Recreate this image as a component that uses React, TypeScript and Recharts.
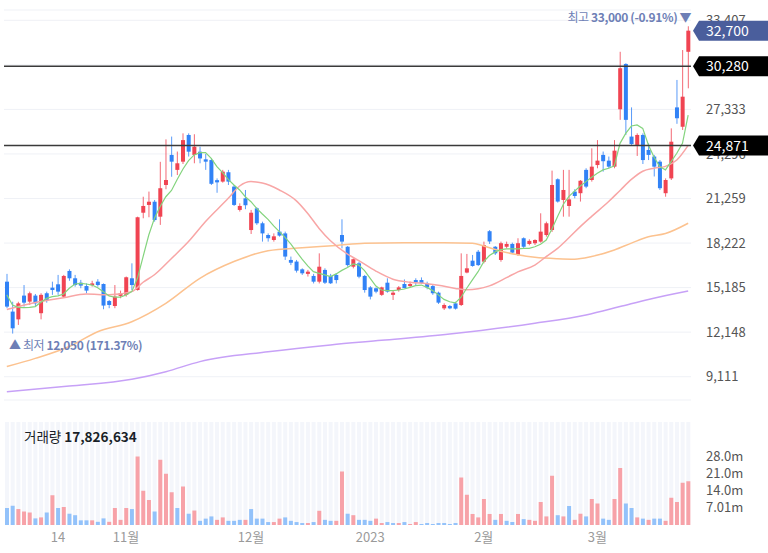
import React from 'react';
import {
  ComposedChart, Bar, Line, XAxis, YAxis, CartesianGrid,
  ReferenceLine, ReferenceDot, Cell,
} from 'recharts';

// trading days 2022-09-29 ~ 2023-03-24
const dates = [
  '2022-09-29', '2022-09-30',
  '2022-10-04', '2022-10-05', '2022-10-06', '2022-10-07', '2022-10-11', '2022-10-12', '2022-10-13', '2022-10-14',
  '2022-10-17', '2022-10-18', '2022-10-19', '2022-10-20', '2022-10-21', '2022-10-24', '2022-10-25', '2022-10-26',
  '2022-10-27', '2022-10-28', '2022-10-31',
  '2022-11-01', '2022-11-02', '2022-11-03', '2022-11-04', '2022-11-07', '2022-11-08', '2022-11-09', '2022-11-10',
  '2022-11-11', '2022-11-14', '2022-11-15', '2022-11-16', '2022-11-17', '2022-11-18', '2022-11-21', '2022-11-22',
  '2022-11-23', '2022-11-24', '2022-11-25', '2022-11-28', '2022-11-29', '2022-11-30',
  '2022-12-01', '2022-12-02', '2022-12-05', '2022-12-06', '2022-12-07', '2022-12-08', '2022-12-09', '2022-12-12',
  '2022-12-13', '2022-12-14', '2022-12-15', '2022-12-16', '2022-12-19', '2022-12-20', '2022-12-21', '2022-12-22',
  '2022-12-23', '2022-12-26', '2022-12-27', '2022-12-28', '2022-12-29',
  '2023-01-02', '2023-01-03', '2023-01-04', '2023-01-05', '2023-01-06', '2023-01-09', '2023-01-10', '2023-01-11',
  '2023-01-12', '2023-01-13', '2023-01-16', '2023-01-17', '2023-01-18', '2023-01-19', '2023-01-20', '2023-01-25',
  '2023-01-26', '2023-01-27', '2023-01-30', '2023-01-31',
  '2023-02-01', '2023-02-02', '2023-02-03', '2023-02-06', '2023-02-07', '2023-02-08', '2023-02-09', '2023-02-10',
  '2023-02-13', '2023-02-14', '2023-02-15', '2023-02-16', '2023-02-17', '2023-02-20', '2023-02-21', '2023-02-22',
  '2023-02-23', '2023-02-24', '2023-02-27', '2023-02-28',
  '2023-03-02', '2023-03-03', '2023-03-06', '2023-03-07', '2023-03-08', '2023-03-09', '2023-03-10', '2023-03-13',
  '2023-03-14', '2023-03-15', '2023-03-16', '2023-03-17', '2023-03-20', '2023-03-21', '2023-03-22', '2023-03-23',
  '2023-03-24',
];

const opens = [
  15590, 13550, 13020, 14640, 14230, 14640, 13440, 14800, 15180, 15410,
  14570, 16320, 15820, 15520, 15290, 15360, 15590, 15430, 14270, 13930,
  14620, 14690, 15820, 15020, 20290, 20820, 21040, 20020, 22180, 24230,
  23210, 23770, 25590, 24230, 24450, 23930, 23880, 22510, 22410, 23050,
  22070, 20480, 21270, 19110, 20590, 19570, 18770, 18430, 19000, 18880,
  17070, 16960, 16430, 16120, 15980, 15590, 16390, 15980, 16050, 18770,
  17970, 16610, 16840, 15980, 15200, 15140, 14690, 15520, 14690, 15020,
  15430, 15290, 15700, 15700, 15470, 15290, 14840, 13770, 13930, 14110,
  14000, 16210, 17020, 17630, 16950, 19030, 17970, 17070, 17970, 18160,
  17410, 18550, 18160, 18210, 18320, 18770, 19110, 22570, 21160, 20750,
  21730, 21620, 23210, 22520, 23540, 24230, 23840, 23430, 27340, 30430,
  25480, 24910, 25590, 24570, 24120, 23770, 21620, 22630, 27470, 26150,
  31260,
];

const highs = [
  16120, 14220, 14220, 15360, 14910, 14750, 14800, 14910, 15590, 16050,
  16050, 16430, 16050, 15710, 15470, 15650, 15760, 15470, 14340, 15360,
  14980, 15940, 16840, 20020, 21380, 21730, 21160, 23760, 25290, 25480,
  24460, 25700, 25700, 25640, 24790, 24300, 23990, 22630, 23210, 23210,
  22180, 20930, 21840, 20480, 20660, 19680, 18880, 18880, 19840, 19000,
  17300, 17070, 16500, 16390, 16120, 17520, 16500, 16120, 16160, 19840,
  18020, 17180, 16950, 16050, 15290, 15200, 15250, 15820, 15020, 15290,
  15740, 15590, 15820, 15880, 15590, 15360, 14910, 14110, 14000, 14220,
  17520, 17480, 17410, 17750, 18320, 19110, 18020, 18320, 18320, 18250,
  18550, 18610, 18480, 18480, 20250, 19680, 23160, 22630, 23210, 23210,
  21890, 22520, 23320, 24680, 25240, 24460, 24120, 25240, 31260, 30480,
  27470, 25700, 25700, 25020, 24230, 23880, 22630, 26040, 29340, 31380,
  33000,
];

const lows = [
  13780, 12050, 12640, 13890, 14000, 13930, 13020, 14160, 14690, 14690,
  14530, 15650, 15250, 15140, 14800, 15250, 15250, 13710, 13780, 13780,
  14460, 14570, 15020, 14980, 19910, 19980, 19680, 19460, 21890, 22740,
  22860, 23610, 24120, 23660, 23660, 23210, 22180, 21650, 22340, 22180,
  20750, 20370, 20530, 18840, 19460, 18320, 18320, 18320, 18660, 17070,
  16720, 16210, 16050, 15940, 15470, 15470, 15430, 15430, 15470, 17860,
  16610, 16500, 15820, 14840, 14380, 14800, 14620, 14840, 14340, 14910,
  15140, 15200, 15360, 15430, 15070, 14690, 14070, 13660, 13710, 13690,
  13930, 16160, 16610, 16660, 16840, 18160, 17410, 16950, 17860, 17480,
  17340, 17860, 18070, 18090, 18250, 18660, 18980, 20980, 20020, 20020,
  21270, 21050, 21960, 22410, 23320, 23090, 23320, 23320, 26620, 25590,
  24910, 24160, 23610, 23880, 22760, 21840, 21380, 22520, 26350, 25930,
  28770,
];

const closes = [
  13890, 12410, 14110, 14160, 14800, 14110, 14690, 14340, 15020, 14910,
  15980, 15820, 15360, 15320, 14980, 15470, 15360, 13960, 14000, 14570,
  14800, 15890, 15360, 19980, 20750, 21040, 19790, 21960, 22520, 23770,
  23660, 25240, 24450, 24790, 23990, 23770, 22260, 22360, 23090, 22410,
  20820, 20750, 20800, 20290, 19570, 18880, 18550, 18680, 18730, 17300,
  16880, 16340, 16160, 16270, 15590, 16610, 15520, 15480, 15700, 18320,
  16720, 17120, 15930, 15020, 14570, 14910, 15200, 14910, 14840, 15200,
  15150, 15430, 15520, 15490, 15200, 14800, 14160, 14000, 13770, 13750,
  15980, 16500, 16660, 16720, 18080, 18330, 17520, 18210, 18160, 17570,
  18210, 17970, 18370, 18430, 19000, 19570, 22180, 21050, 21840, 21200,
  21430, 22470, 22070, 23430, 23840, 23800, 23430, 24520, 30140, 26620,
  24970, 25590, 23880, 24230, 23430, 21960, 22520, 25130, 26730, 28200,
  32700,
];

// volume, millions of shares
const volumesM = [
  6.9, 7.9, 6.5, 5.5, 5.1, 2.7, 3.1, 5.1, 12.1, 6.9,
  7.3, 4.6, 4.0, 1.9, 1.9, 1.9, 1.3, 2.7, 1.3, 6.9,
  2.1, 6.9, 6.5, 27.9, 14.0, 10.2, 5.5, 26.6, 20.9, 13.4,
  6.9, 15.7, 4.6, 5.9, 1.7, 2.6, 3.5, 2.1, 3.1, 1.7,
  1.7, 2.1, 2.1, 6.5, 2.6, 2.6, 1.2, 1.2, 2.6, 3.1,
  1.7, 1.2, 0.8, 0.8, 1.2, 5.8, 2.1, 1.7, 1.7, 21.8,
  4.6, 4.0, 2.1, 2.1, 1.7, 2.6, 0.8, 1.2, 0.8, 0.8,
  1.2, 0.4, 1.2, 0.4, 0.8, 0.4, 0.8, 0.8, 0.4, 0.8,
  19.4, 12.3, 4.5, 3.1, 10.6, 4.5, 2.1, 4.5, 1.7, 1.2,
  4.5, 2.4, 2.1, 1.7, 9.4, 3.5, 20.1, 4.0, 3.5, 7.7,
  2.1, 4.6, 3.5, 10.6, 8.8, 2.6, 2.1, 10.6, 23.2, 8.8,
  6.9, 3.1, 2.6, 2.1, 2.6, 2.6, 1.7, 11.1, 9.4, 17.2,
  17.826634,
];

// moving averages
const ma5 = [
  14690, 14000, 13840, 13820, 13840, 13890, 14180, 14450, 14570, 14620,
  14750, 15140, 15430, 15470, 15430, 15360, 15180, 14910, 14620, 14530,
  14530, 14690, 14910, 15820, 17300, 18770, 19910, 20710, 21380, 21810,
  22560, 23250, 23840, 24230, 24390, 24390, 23990, 23430, 23020, 22560,
  22180, 21840, 21380, 21040, 20590, 20200, 19840, 19390, 19000, 18610,
  18160, 17640, 17120, 16660, 16270, 16160, 16050, 15940, 16120, 16360,
  16560, 16800, 16720, 16340, 15820, 15290, 15020, 14980, 14980, 15020,
  15090, 15200, 15320, 15360, 15200, 14980, 14690, 14380, 14220, 14140,
  14530, 15140, 15710, 16270, 16950, 17370, 17620, 17770, 17830, 17820,
  17830, 17860, 17860, 17970, 18140, 18430, 19180, 20040, 20850, 21400,
  21760, 22110, 22410, 22710, 22980, 23210, 23320, 23480, 25020, 25700,
  26200, 26270, 26040, 24910, 24070, 23430, 23210, 23770, 24340, 25020,
  26950,
];

const ma20Points: [number, number][] = [
  [0, 13690], [5, 14170], [10, 14500], [14, 14750], [18, 14690], [22, 14910], [24, 15550],
  [26, 16060], [29, 17170], [32, 18320], [35, 19690], [39, 21270], [41, 22110], [43, 22410],
  [45, 22310], [48, 21840], [51, 21100], [53, 20240], [55, 19220], [57, 18380], [60, 17470],
  [62, 17020], [65, 16310], [68, 15760], [71, 15550], [74, 15450], [76, 15350], [79, 15130],
  [81, 15040], [83, 15100], [85, 15300], [88, 15860], [90, 16260], [93, 16720], [95, 17300],
  [97, 17860], [99, 18580], [101, 19340], [103, 20040], [106, 21050], [108, 21810], [110, 22560],
  [112, 23120], [114, 23320], [116, 23450], [118, 23880], [120, 24880],
];

const ma60Points: [number, number][] = [
  [0, 9800], [5, 10360], [11, 11170], [16, 12180], [22, 12860], [28, 14110], [34, 15820],
  [40, 16960], [46, 17700], [52, 17900], [58, 18060], [63, 18210], [70, 18250], [77, 18250],
  [82, 18210], [84, 18020], [87, 17670], [90, 17420], [93, 17250], [97, 17150], [100, 17120],
  [103, 17300], [107, 17750], [110, 18220], [113, 18650], [116, 18870], [120, 19570],
];

const ma120Points: [number, number][] = [
  [0, 8090], [11, 8470], [22, 8930], [28, 9450], [34, 10140], [46, 10810], [57, 11280],
  [66, 11590], [78, 12020], [93, 12750], [102, 13320], [108, 13890], [113, 14380], [120, 14950],
];

const priceTicks = [9111, 12148, 15185, 18222, 21259, 24296, 27333, 30370, 33407];
const volumeTicks = [7.01e6, 14.0e6, 21.0e6, 28.0e6];
const xTickDates = ['2022-10-14', '2022-11-01', '2022-12-01', '2023-01-02', '2023-02-01', '2023-03-02'];
const xTickLabels = ['14', '11월', '12월', '2023', '2월', '3월'];

const levels = [30280, 24871];
const lastPrice = 32700;
const highPrice = 33000;
const highChange = '-0.91%';
const lowPrice = 12050;
const lowChange = '171.37%';

const FONT = '"Noto Sans CJK KR", "Noto Sans", sans-serif';
const UP = '#f04452';
const DOWN = '#3182f6';
const VOL_UP = '#f7a2a8';
const VOL_DOWN = '#93c2fa';
const NOTE = '#6e7fb6';
const PRICE_DOMAIN: [number, number] = [7523, 34109];
const MARGIN = { top: 10, right: 0, bottom: 10, left: 4 };

const fmt = (v: number) => v.toLocaleString('en-US');

const sparse = (pts: [number, number][]) => {
  const out: (number | null)[] = dates.map(() => null);
  pts.forEach(([i, v]) => { out[i] = v; });
  return out;
};
const ma20 = sparse(ma20Points);
const ma60 = sparse(ma60Points);
const ma120 = sparse(ma120Points);

const rows = dates.map((date, i) => ({
  date,
  open: opens[i],
  high: highs[i],
  low: lows[i],
  close: closes[i],
  vol: Math.round(volumesM[i] * 1e6),
  up: i === 0 ? closes[i] >= opens[i] : closes[i] >= closes[i - 1],
  ma5: ma5[i],
  ma20: ma20[i],
  ma60: ma60[i],
  ma120: ma120[i],
}));

const highIdx = highs.indexOf(highPrice);
const lowIdx = lows.indexOf(lowPrice);

function Candle(props: any) {
  const { x, y, width, height, payload } = props;
  const { open, close, high, low } = payload;
  const top = Math.min(y, y + height);
  const h = Math.abs(height);
  const py = (v: number) => (high === low ? top : top + ((high - v) / (high - low)) * h);
  const color = close >= open ? UP : DOWN;
  const cx = x + width / 2;
  const bTop = py(Math.max(open, close));
  const bBot = py(Math.min(open, close));
  return (
    <g>
      <line x1={cx} x2={cx} y1={top} y2={top + h} stroke={color} strokeWidth={1} strokeOpacity={0.8} />
      <rect x={x} y={bTop} width={width} height={Math.max(1, bBot - bTop)} fill={color} />
    </g>
  );
}

function PriceTag(props: any) {
  const { viewBox, text, fill } = props;
  if (!viewBox) return null;
  const y = viewBox.y;
  const x0 = viewBox.x + viewBox.width + 2;
  const hh = 10;
  return (
    <g>
      <polygon
        points={`${x0},${y} ${x0 + 6},${y - hh} 768,${y - hh} 768,${y + hh} ${x0 + 6},${y + hh}`}
        fill={fill}
      />
      <text x={x0 + 13} y={y} dy="0.36em" fill="#fff" fontSize={14}>{text}</text>
    </g>
  );
}

function HighLabel(props: any) {
  const { viewBox } = props;
  if (!viewBox) return null;
  return (
    <text x={viewBox.x + 3} y={viewBox.y - 4} textAnchor="end" fill={NOTE} fontSize={12} letterSpacing={-0.4}>
      <tspan>최고 </tspan>
      <tspan fontWeight="bold">{`${fmt(highPrice)} (${highChange})`}</tspan>
      <tspan> ▼</tspan>
    </text>
  );
}

function LowLabel(props: any) {
  const { viewBox } = props;
  if (!viewBox) return null;
  return (
    <text x={viewBox.x - 3.5} y={viewBox.y + 16} fill={NOTE} fontSize={12} letterSpacing={-0.4}>
      <tspan>▲ 최저 </tspan>
      <tspan fontWeight="bold">{`${fmt(lowPrice)} (${lowChange})`}</tspan>
    </text>
  );
}

const tickStyle = { fill: '#555', fontSize: 13 };

export default function App() {
  const lastVol = rows[rows.length - 1].vol;
  return (
    <div
      style={{
        position: 'absolute', left: 0, top: 0, width: 768, height: 553,
        background: '#fff', fontFamily: FONT, overflow: 'hidden',
      }}
    >
      <div style={{ position: 'absolute', left: 0, top: 0 }}>
        <ComposedChart width={768} height={410} data={rows} margin={MARGIN}>
          <CartesianGrid vertical={false} stroke="#eff1f6" />
          <XAxis dataKey="date" hide />
          <YAxis
            orientation="right"
            type="number"
            width={77}
            domain={PRICE_DOMAIN}
            ticks={priceTicks}
            interval={0}
            allowDataOverflow
            tickFormatter={fmt}
            tickLine={false}
            axisLine={false}
            tickSize={0}
            tickMargin={15}
            tick={tickStyle}
          />
          <Line dataKey="ma120" type="monotone" stroke="#c7a1f7" strokeWidth={1.5} dot={false} connectNulls isAnimationActive={false} />
          <Line dataKey="ma60" type="monotone" stroke="#fcc28f" strokeWidth={1.5} dot={false} connectNulls isAnimationActive={false} />
          <Line dataKey="ma20" type="monotone" stroke="#f8a6a6" strokeWidth={1.5} dot={false} connectNulls isAnimationActive={false} />
          <Line dataKey="ma5" type="linear" stroke="#84d47e" strokeWidth={1.2} dot={false} isAnimationActive={false} />
          <Bar dataKey={(d: any) => [d.low, d.high]} barSize={4} shape={<Candle />} isAnimationActive={false} />
          <ReferenceDot x={dates[highIdx]} y={highPrice} r={0} fill="none" stroke="none" label={<HighLabel />} />
          <ReferenceDot x={dates[lowIdx]} y={lowPrice} r={0} fill="none" stroke="none" label={<LowLabel />} />
        </ComposedChart>
      </div>

      {/* level lines and price tags drawn over the axis labels */}
      <div style={{ position: 'absolute', left: 0, top: 0 }}>
        <ComposedChart width={768} height={410} data={rows} margin={MARGIN}>
          <XAxis dataKey="date" hide />
          <YAxis
            orientation="right"
            type="number"
            width={77}
            domain={PRICE_DOMAIN}
            allowDataOverflow
            tick={false}
            tickLine={false}
            axisLine={false}
          />
          {levels.map((l) => (
            <ReferenceLine key={l} y={l} stroke="#3a3a3a" strokeWidth={1.5} label={<PriceTag text={fmt(l)} fill="#000" />} />
          ))}
          <ReferenceLine y={lastPrice} strokeOpacity={0} label={<PriceTag text={fmt(lastPrice)} fill="#4a5e9c" />} />
        </ComposedChart>
      </div>

      <div style={{ position: 'absolute', left: 0, top: 412, width: 768, height: 141 }}>
        <ComposedChart width={768} height={141} data={rows} margin={{ top: 10, right: 0, bottom: 0, left: 4 }}>
          <XAxis
            dataKey="date"
            ticks={xTickDates}
            interval={0}
            height={28}
            tickFormatter={(d: string) => xTickLabels[xTickDates.indexOf(d)] ?? ''}
            tickLine={false}
            axisLine={false}
            tickSize={0}
            tickMargin={8}
            tick={{ fill: '#9a9a9a', fontSize: 13 }}
          />
          <YAxis
            orientation="right"
            type="number"
            width={77}
            domain={[0, 42e6]}
            ticks={volumeTicks}
            interval={0}
            allowDataOverflow
            tickFormatter={(v: number) => `${(v / 1e6).toPrecision(3)}m`}
            tickLine={false}
            axisLine={false}
            tickSize={0}
            tickMargin={15}
            tick={tickStyle}
          />
          <Bar dataKey="vol" barSize={4} background={{ fill: '#f4f6fb' }} isAnimationActive={false}>
            {rows.map((r) => (
              <Cell key={r.date} fill={r.up ? VOL_UP : VOL_DOWN} />
            ))}
          </Bar>
        </ComposedChart>
        <div style={{ position: 'absolute', left: 24, top: 14, fontSize: 13.5, color: '#191f28', whiteSpace: 'nowrap' }}>
          거래량 <b>{fmt(lastVol)}</b>
        </div>
      </div>
    </div>
  );
}
